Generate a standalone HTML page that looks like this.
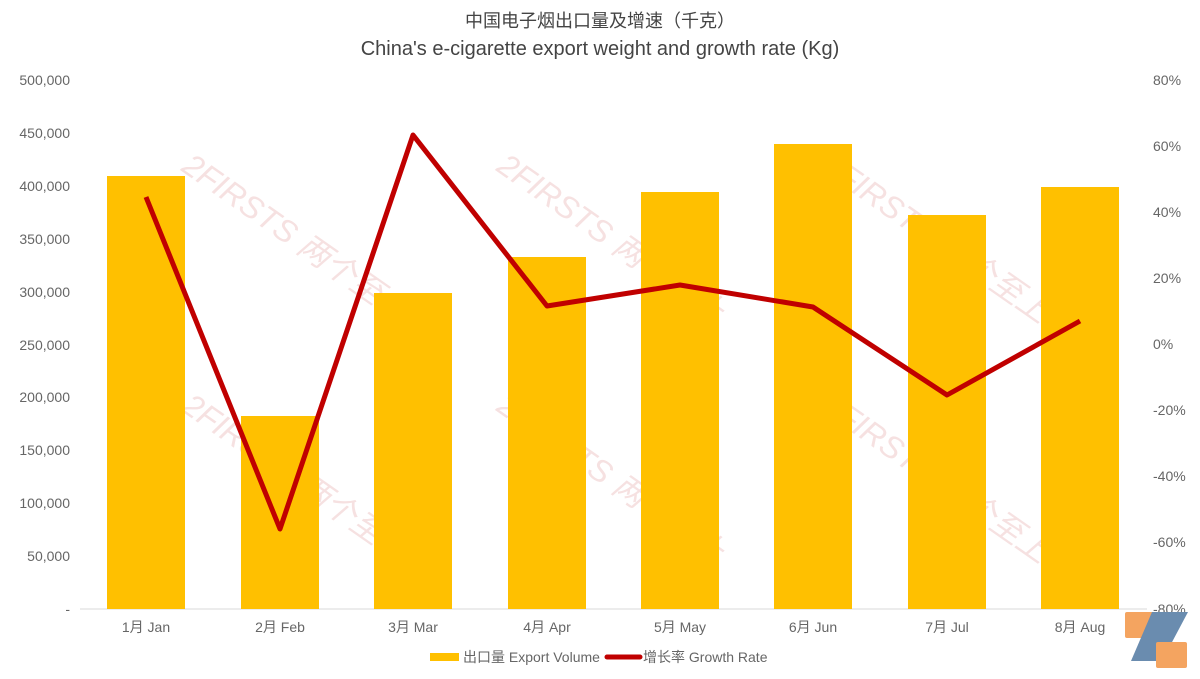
<!DOCTYPE html>
<html><head><meta charset="utf-8"><style>body{margin:0;background:#fff}svg{display:block}text{font-family:"Liberation Sans","Noto Sans CJK SC",sans-serif}</style></head><body>
<svg width="1200" height="679" viewBox="0 0 1200 679">
<rect width="1200" height="679" fill="#fff"/>
<g fill="#e8b4b4" opacity="0.4" font-size="32" font-style="italic">
<text x="180" y="170" transform="rotate(35 180 170)">2FIRSTS 两个至上</text>
<text x="495" y="170" transform="rotate(35 495 170)">2FIRSTS 两个至上</text>
<text x="820" y="170" transform="rotate(35 820 170)">2FIRSTS 两个至上</text>
<text x="180" y="410" transform="rotate(35 180 410)">2FIRSTS 两个至上</text>
<text x="495" y="410" transform="rotate(35 495 410)">2FIRSTS 两个至上</text>
<text x="820" y="410" transform="rotate(35 820 410)">2FIRSTS 两个至上</text>
</g>
<text x="600" y="27" font-size="18" fill="#444" text-anchor="middle">中国电子烟出口量及增速（千克）</text>
<text x="600" y="55" font-size="20" fill="#444" text-anchor="middle">China's e-cigarette export weight and growth rate (Kg)</text>
<g font-size="14" fill="#666" text-anchor="end">
<text x="70" y="85">500,000</text><text x="70" y="138">450,000</text><text x="70" y="191">400,000</text><text x="70" y="244">350,000</text><text x="70" y="297">300,000</text><text x="70" y="350">250,000</text><text x="70" y="402">200,000</text><text x="70" y="455">150,000</text><text x="70" y="508">100,000</text><text x="70" y="561">50,000</text><text x="70" y="614">-</text>
</g>
<g font-size="14" fill="#666" text-anchor="start">
<text x="1153" y="85">80%</text><text x="1153" y="151">60%</text><text x="1153" y="217">40%</text><text x="1153" y="283">20%</text><text x="1153" y="349">0%</text><text x="1153" y="415">-20%</text><text x="1153" y="481">-40%</text><text x="1153" y="547">-60%</text><text x="1153" y="614">-80%</text>
</g>
<line x1="80" y1="609" x2="1147" y2="609" stroke="#d9d9d9"/>
<g fill="#ffc000">
<rect x="107" y="176" width="78" height="433"/>
<rect x="241" y="416" width="78" height="193"/>
<rect x="374" y="293" width="78" height="316"/>
<rect x="508" y="257" width="78" height="352"/>
<rect x="641" y="192" width="78" height="417"/>
<rect x="774" y="144" width="78" height="465"/>
<rect x="908" y="215" width="78" height="394"/>
<rect x="1041" y="187" width="78" height="422"/>
</g>
<polyline points="146,197 280,529 413,135 547,306 680,285 813,307 947,395 1080,321" fill="none" stroke="#c00000" stroke-width="5" stroke-linejoin="round"/>
<g font-size="14" fill="#666" text-anchor="middle">
<text x="146" y="632">1月 Jan</text><text x="280" y="632">2月 Feb</text><text x="413" y="632">3月 Mar</text><text x="547" y="632">4月 Apr</text><text x="680" y="632">5月 May</text><text x="813" y="632">6月 Jun</text><text x="947" y="632">7月 Jul</text><text x="1080" y="632">8月 Aug</text>
</g>
<rect x="430" y="653" width="29" height="8" fill="#ffc000"/>
<text x="463" y="662" font-size="14" fill="#666">出口量 Export Volume</text>
<line x1="607" y1="657" x2="640" y2="657" stroke="#c00000" stroke-width="5" stroke-linecap="round"/>
<text x="643" y="662" font-size="14" fill="#666">增长率 Growth Rate</text>
<g>
<rect x="1125" y="612" width="30" height="26" rx="2" fill="#f4a460"/>
<polygon points="1152,612 1188,612 1162,661 1131,661" fill="#6a8caf"/>
<rect x="1156" y="642" width="31" height="26" rx="2" fill="#f4a460"/>
</g>
</svg>
</body></html>
